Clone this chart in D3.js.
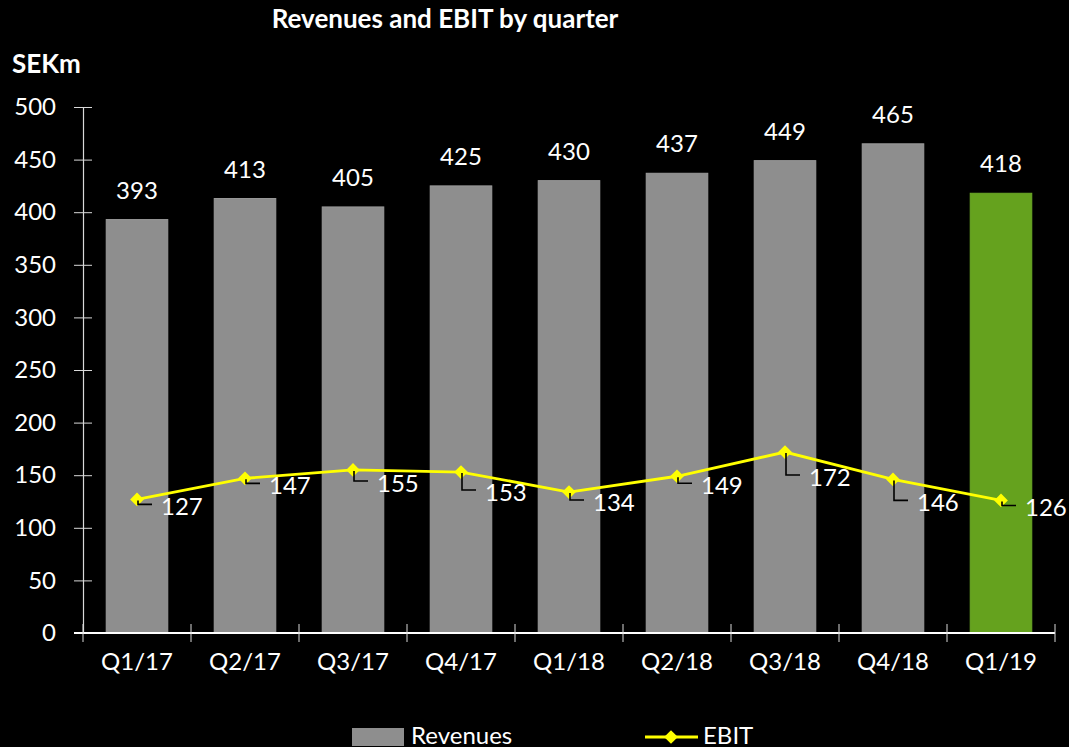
<!DOCTYPE html>
<html>
<head>
<meta charset="utf-8">
<script src="https://cdn.jsdelivr.net/npm/d3@7"></script>
<style>
  html, body { margin: 0; padding: 0; background: #000; }
  svg { display: block; font-family: Lato, "Open Sans", sans-serif; }
  .text { fill: #fff; }
</style>
</head>
<body>
<svg id="chart" width="1069" height="747"></svg>
<script>
const quarters = ["Q1/17", "Q2/17", "Q3/17", "Q4/17", "Q1/18", "Q2/18", "Q3/18", "Q4/18", "Q1/19"];
const revenues = [393, 413, 405, 425, 430, 437, 449, 465, 418];
const ebit = [127, 147, 155, 153, 134, 149, 172, 146, 126];
const yTicks = [0, 50, 100, 150, 200, 250, 300, 350, 400, 450, 500];

// how far each EBIT leader line drops before turning right
const leaderDrop = [4, 4, 10, 17, 7, 6, 22, 20, 4];

const grey = "#8e8e8e";
const green = "#65a21e";
const yellow = "#ffff00";
const axisColor = "#d9d9d9";

const svg = d3.select("#chart");

const x = d3.scaleBand()
    .domain(quarters)
    .range([83, 1055])
    .paddingInner(0.43)
    .paddingOuter(0.215);

const y = d3.scaleLinear()
    .domain([0, 500])
    .range([633, 107]);

// title
svg.append("text")
    .attr("class", "text")
    .attr("x", 445)
    .attr("y", 28)
    .attr("text-anchor", "middle")
    .attr("font-weight", "bold")
    .attr("font-size", "26px")
    .text("Revenues and EBIT by quarter");

svg.append("text")
    .attr("class", "text")
    .attr("x", 12)
    .attr("y", 73)
    .attr("font-weight", "bold")
    .attr("font-size", "26px")
    .text("SEKm");

// bars
svg.selectAll(".bar")
    .data(quarters)
    .enter().append("rect")
        .attr("class", "bar")
        .attr("x", d => x(d))
        .attr("width", x.bandwidth())
        .attr("y", (d, i) => y(revenues[i]))
        .attr("height", (d, i) => y(0) - y(revenues[i]))
        .attr("fill", (d, i) => i === quarters.length - 1 ? green : grey)
        .attr("stroke", (d, i) => i === quarters.length - 1 ? "#6aa826" : "#9a9a9a")
        .attr("stroke-width", 1);

svg.selectAll(".bar-label")
    .data(quarters)
    .enter().append("text")
        .attr("class", "text bar-label")
        .attr("x", d => x(d) + x.bandwidth() / 2)
        .attr("y", (d, i) => y(revenues[i]) - 21)
        .attr("text-anchor", "middle")
        .attr("font-size", "24px")
        .text((d, i) => revenues[i]);

// y axis
const yAxis = svg.append("g")
    .attr("transform", "translate(83,0)")
    .call(d3.axisLeft(y).tickValues(yTicks).tickSize(0).tickPadding(27));
yAxis.select(".domain").attr("stroke", axisColor).attr("stroke-width", 1.2);
yAxis.selectAll(".tick line")
    .attr("x1", -9).attr("x2", 9)
    .attr("stroke", axisColor);
yAxis.selectAll(".tick text")
    .attr("fill", "#fff")
    .attr("font-size", "24px")
    .attr("font-family", "Lato, sans-serif");

// x axis
const xAxis = svg.append("g")
    .attr("transform", `translate(0,${y(0)})`)
    .call(d3.axisBottom(x).tickSize(0).tickPadding(20));
xAxis.select(".domain").remove();
xAxis.append("line")
    .attr("x1", 74).attr("x2", 1055)
    .attr("stroke", "#fff").attr("stroke-width", 2);
xAxis.selectAll(".tick text")
    .attr("fill", "#fff")
    .attr("font-size", "24px")
    .attr("font-family", "Lato, sans-serif")
    .attr("dy", "0.71em");
const step = x.step();
xAxis.selectAll(".bound")
    .data(d3.range(quarters.length + 1))
    .enter().append("line")
        .attr("x1", i => 83 + i * step)
        .attr("x2", i => 83 + i * step)
        .attr("y1", -9).attr("y2", 9)
        .attr("stroke", axisColor);

// EBIT line
const cx = d => x(d) + x.bandwidth() / 2;
const line = d3.line()
    .x(d => cx(d))
    .y((d, i) => y(ebit[i]));

svg.append("path")
    .datum(quarters)
    .attr("fill", "none")
    .attr("stroke", yellow)
    .attr("stroke-width", 2.8)
    .attr("d", line);

const diamond = d3.symbol().type(d3.symbolDiamond2).size(120);

svg.selectAll(".marker")
    .data(quarters)
    .enter().append("path")
        .attr("class", "marker")
        .attr("transform", (d, i) => `translate(${cx(d)},${y(ebit[i])})`)
        .attr("d", diamond)
        .attr("fill", yellow);

svg.selectAll(".leader")
    .data(quarters)
    .enter().append("path")
        .attr("class", "leader")
        .attr("fill", "none")
        .attr("stroke", "#000")
        .attr("stroke-width", 1.6)
        .attr("d", (d, i) => {
            const px = cx(d) + 1, py = y(ebit[i]) + 1;
            return `M${px},${py}V${py + leaderDrop[i]}H${px + 14}`;
        });

svg.selectAll(".ebit-label")
    .data(quarters)
    .enter().append("text")
        .attr("class", "text ebit-label")
        .attr("x", d => cx(d) + 24)
        .attr("y", (d, i) => y(ebit[i]) + leaderDrop[i] + 12)
        .attr("font-size", "24px")
        .text((d, i) => ebit[i]);

// legend
const legend = svg.append("g");
legend.append("rect")
    .attr("x", 352).attr("y", 728)
    .attr("width", 52).attr("height", 18)
    .attr("fill", grey);
legend.append("text")
    .attr("class", "text")
    .attr("x", 411).attr("y", 744)
    .attr("font-size", "24px")
    .text("Revenues");
legend.append("line")
    .attr("x1", 645).attr("x2", 698)
    .attr("y1", 737).attr("y2", 737)
    .attr("stroke", yellow).attr("stroke-width", 2.8);
legend.append("path")
    .attr("transform", "translate(671,737)")
    .attr("d", diamond)
    .attr("fill", yellow);
legend.append("text")
    .attr("class", "text")
    .attr("x", 703).attr("y", 744)
    .attr("font-size", "24px")
    .text("EBIT");
</script>
</body>
</html>
